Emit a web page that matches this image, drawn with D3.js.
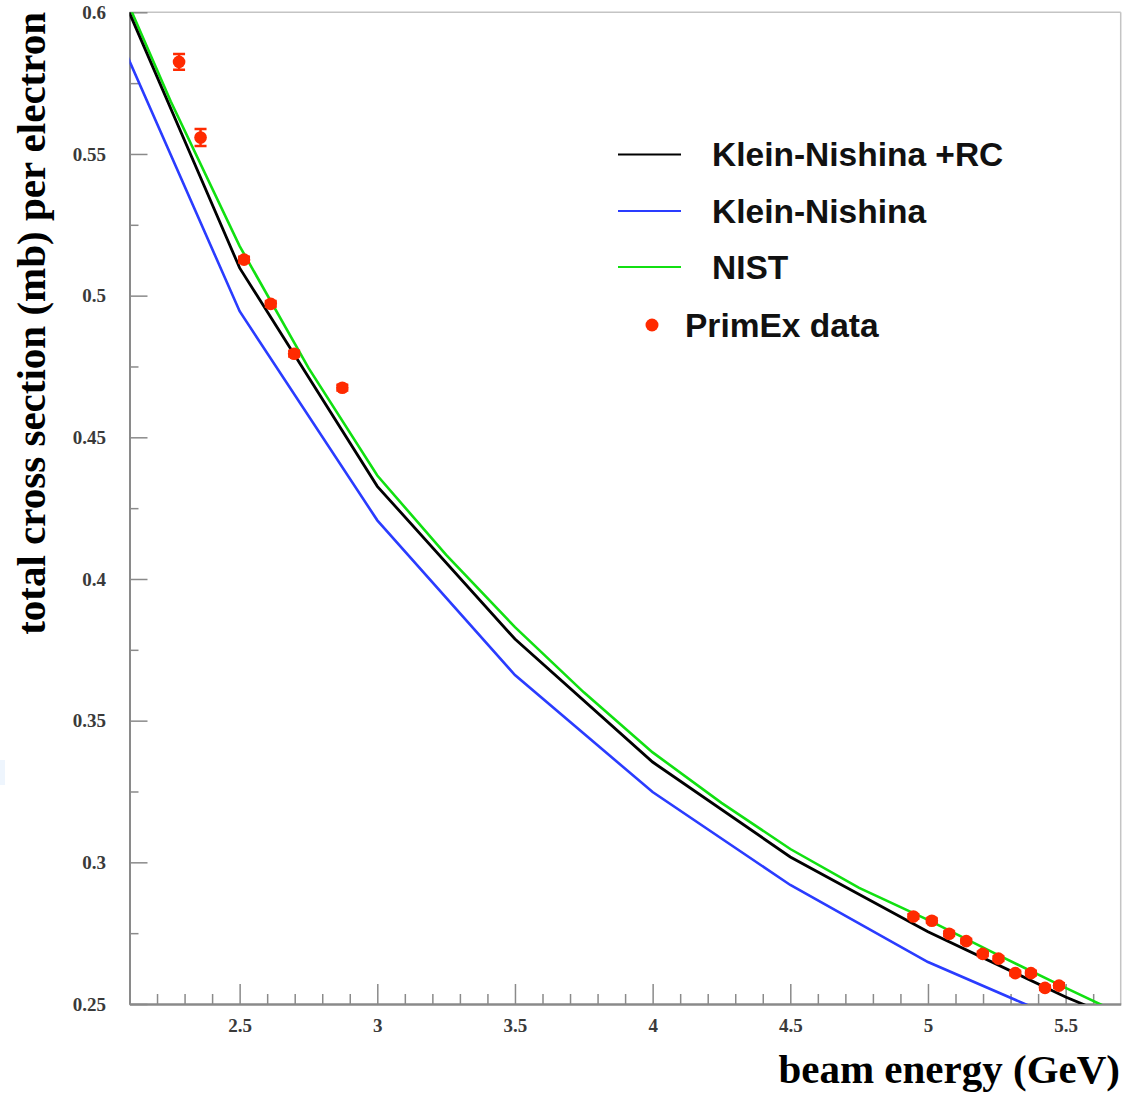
<!DOCTYPE html>
<html>
<head>
<meta charset="utf-8">
<script src="https://cdn.jsdelivr.net/npm/d3@7"></script>
<style>
  html, body { margin: 0; padding: 0; background: #fff; }
  svg { display: block; }
</style>
</head>
<body>
<svg id="chart" width="1122" height="1093"></svg>
<script>
// ---- data ----
const energyNodes   = [2.0, 2.5, 3.0, 3.5, 4.0, 4.5, 5.0, 5.5, 6.0];
const knRC          = [0.6222, 0.5098, 0.4327, 0.3788, 0.3354, 0.3019, 0.2755, 0.2525, 0.2320];
const kn            = [0.6048, 0.4945, 0.4207, 0.3661, 0.3248, 0.2920, 0.2648, 0.2438, 0.2250];

const nistEnergy    = [2.0, 2.25, 2.5, 2.75, 3.0, 3.25, 3.5, 3.75, 4.0, 4.25, 4.5, 4.75, 5.0, 5.25, 5.5, 5.75];
const nist          = [0.6243, 0.5685, 0.5175, 0.4745, 0.4365, 0.4085, 0.3830, 0.3600, 0.3388, 0.3210, 0.3047, 0.2910, 0.2797, 0.2675, 0.2557, 0.2442];

const dataEnergy    = [2.280, 2.358, 2.516, 2.613, 2.698, 2.873, 4.947, 5.014, 5.077, 5.139, 5.199, 5.256, 5.317, 5.374, 5.425, 5.476];
const dataXsec      = [0.5825, 0.5558, 0.5127, 0.4971, 0.4795, 0.4675, 0.2809, 0.2794, 0.2748, 0.2722, 0.2677, 0.2660, 0.2609, 0.2609, 0.2557, 0.2565];
const dataErr       = [0.0028, 0.0030, 0.0010, 0.0010, 0.0010, 0.0010, 0.0008, 0.0008, 0.0008, 0.0008, 0.0008, 0.0008, 0.0008, 0.0008, 0.0008, 0.0008];

const legendLabels  = ["Klein-Nishina +RC", "Klein-Nishina", "NIST", "PrimEx data"];
const legendColors  = ["#000000", "#2a3cff", "#11e011", "#ff2a00"];

const xMajorTicks   = [2.5, 3.0, 3.5, 4.0, 4.5, 5.0, 5.5];
const xMinorTicks   = [2.2, 2.3, 2.4, 2.6, 2.7, 2.8, 2.9, 3.1, 3.2, 3.3, 3.4, 3.6, 3.7, 3.8, 3.9, 4.1, 4.2, 4.3, 4.4, 4.6, 4.7, 4.8, 4.9, 5.1, 5.2, 5.3, 5.4, 5.6];
const yMajorTicks   = [0.25, 0.3, 0.35, 0.4, 0.45, 0.5, 0.55, 0.6];
const yMinorTicks   = [0.275, 0.325, 0.375, 0.425, 0.475, 0.525, 0.575];

const xTitle = "beam energy (GeV)";
const yTitle = "total cross section (mb) per electron";

// ---- layout ----
const svg = d3.select("#chart");
const pL = 129.5, pR = 1120.7, pT = 12.3, pB = 1004;
const x = d3.scaleLinear().domain([2.1, 5.7]).range([pL, pR]);
const y = d3.scaleLinear().domain([0.25, 0.6]).range([pB, pT]);

svg.append("defs").append("clipPath").attr("id", "plotclip")
  .append("rect").attr("x", pL).attr("y", pT).attr("width", pR - pL).attr("height", pB - pT);

// faint patch at left edge (artifact in reference)
svg.append("rect").attr("x", 0).attr("y", 760).attr("width", 5).attr("height", 25).attr("fill", "#eef5fd");

// frame top/right
svg.append("line").attr("x1", pL).attr("x2", pR).attr("y1", pT).attr("y2", pT)
  .attr("stroke", "#c4c4c4").attr("stroke-width", 1.5);
svg.append("line").attr("x1", pR).attr("x2", pR).attr("y1", pT).attr("y2", pB)
  .attr("stroke", "#c4c4c4").attr("stroke-width", 1.5);

const labelFont = "'Liberation Serif', 'Times New Roman', serif";

// bottom axis
const gxMinor = svg.append("g").attr("transform", `translate(0,${pB})`)
  .call(d3.axisBottom(x).tickValues(xMinorTicks).tickSizeInner(-10).tickSizeOuter(0).tickFormat(""));
const gx = svg.append("g").attr("transform", `translate(0,${pB})`)
  .call(d3.axisBottom(x).tickValues(xMajorTicks).tickSizeInner(-20).tickSizeOuter(0).tickPadding(14.5)
    .tickFormat(d3.format("")));
// left axis
const gyMinor = svg.append("g").attr("transform", `translate(${pL},0)`)
  .call(d3.axisLeft(y).tickValues(yMinorTicks).tickSizeInner(-9).tickSizeOuter(0).tickFormat(""));
const gy = svg.append("g").attr("transform", `translate(${pL},0)`)
  .call(d3.axisLeft(y).tickValues(yMajorTicks).tickSizeInner(-18).tickSizeOuter(0).tickPadding(23.5)
    .tickFormat(d3.format("")));

[gx, gy, gxMinor, gyMinor].forEach(g => {
  g.select(".domain").attr("stroke", "#8a8a8a").attr("stroke-width", 2);
  g.selectAll(".tick line").attr("stroke", "#8a8a8a").attr("stroke-width", 1.5);
  g.selectAll("text").attr("font-family", labelFont).attr("font-size", 19)
    .attr("font-weight", "bold").attr("fill", "#3a3a3a");
});

// curves
const plot = svg.append("g").attr("clip-path", "url(#plotclip)");
const line = d3.line().x(d => x(d[0])).y(d => y(d[1]));

plot.append("path").datum(nistEnergy.map((e, i) => [e, nist[i]]))
  .attr("d", line).attr("fill", "none").attr("stroke", legendColors[2]).attr("stroke-width", 2.6);
plot.append("path").datum(energyNodes.map((e, i) => [e, kn[i]]))
  .attr("d", line).attr("fill", "none").attr("stroke", legendColors[1]).attr("stroke-width", 2.6);
plot.append("path").datum(energyNodes.map((e, i) => [e, knRC[i]]))
  .attr("d", line).attr("fill", "none").attr("stroke", legendColors[0]).attr("stroke-width", 2.8);

// data points
const pts = dataEnergy.map((e, i) => ({ e, v: dataXsec[i], err: dataErr[i] }));
const pg = plot.append("g");
pg.selectAll("line.err").data(pts).enter().append("line").attr("class", "err")
  .attr("x1", d => x(d.e)).attr("x2", d => x(d.e))
  .attr("y1", d => y(d.v + d.err)).attr("y2", d => y(d.v - d.err))
  .attr("stroke", legendColors[3]).attr("stroke-width", 2.5);
pg.selectAll("line.capTop").data(pts).enter().append("line").attr("class", "capTop")
  .attr("x1", d => x(d.e) - 6).attr("x2", d => x(d.e) + 6)
  .attr("y1", d => y(d.v + d.err)).attr("y2", d => y(d.v + d.err))
  .attr("stroke", legendColors[3]).attr("stroke-width", 2.5);
pg.selectAll("line.capBot").data(pts).enter().append("line").attr("class", "capBot")
  .attr("x1", d => x(d.e) - 6).attr("x2", d => x(d.e) + 6)
  .attr("y1", d => y(d.v - d.err)).attr("y2", d => y(d.v - d.err))
  .attr("stroke", legendColors[3]).attr("stroke-width", 2.5);
pg.selectAll("circle").data(pts).enter().append("circle")
  .attr("cx", d => x(d.e)).attr("cy", d => y(d.v)).attr("r", 6.3)
  .attr("fill", legendColors[3]);

// legend
const legendFont = "'Liberation Sans', Arial, Helvetica, sans-serif";
const legRowY = [154.5, 211, 267, 325];
legendLabels.forEach((lab, i) => {
  if (i < 3) {
    svg.append("line").attr("x1", 618).attr("x2", 681).attr("y1", legRowY[i]).attr("y2", legRowY[i])
      .attr("stroke", legendColors[i]).attr("stroke-width", 2.2);
    svg.append("text").attr("x", 712).attr("y", legRowY[i] + 11.8).text(lab)
      .attr("font-family", legendFont).attr("font-weight", "bold").attr("font-size", 33.5).attr("fill", "#111");
  } else {
    svg.append("circle").attr("cx", 652).attr("cy", legRowY[i]).attr("r", 6.5).attr("fill", legendColors[i]);
    svg.append("text").attr("x", 685).attr("y", legRowY[i] + 11.8).text(lab)
      .attr("font-family", legendFont).attr("font-weight", "bold").attr("font-size", 33.5).attr("fill", "#111");
  }
});

// axis titles
svg.append("text").attr("x", 1120).attr("y", 1083).attr("text-anchor", "end")
  .attr("font-family", labelFont).attr("font-weight", "bold").attr("font-size", 41).attr("fill", "#000")
  .text(xTitle);
svg.append("text").attr("transform", "translate(45,12) rotate(-90)").attr("text-anchor", "end")
  .attr("font-family", labelFont).attr("font-weight", "bold").attr("font-size", 41).attr("fill", "#000")
  .text(yTitle);
</script>
</body>
</html>
